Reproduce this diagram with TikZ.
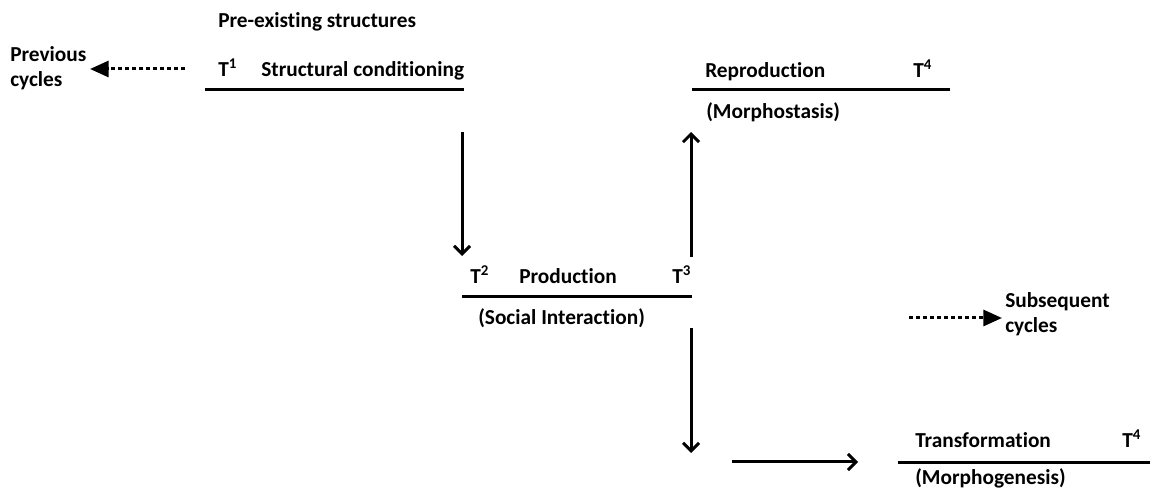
\documentclass[tikz,border=0pt]{standalone}
\usepackage{fontspec}
\setmainfont[Ligatures=NoCommon]{Carlito}
\usetikzlibrary{arrows.meta}
\begin{document}
\begin{tikzpicture}[x=0.75pt,y=-0.75pt,
  lbl/.style={anchor=base west,inner sep=0pt,font=\fontsize{16}{20}\selectfont\bfseries},
  bar/.style={line width=2.25pt},
  flow/.style={line width=2.25pt,-{Straight Barb[length=6pt,width=12pt,line width=2.25pt]}},
  cycle/.style={line width=2.25pt,dash pattern=on 3pt off 2.25pt,-{Triangle[length=14pt,width=12pt,sep=0pt]}}]
\useasboundingbox (0,0) rectangle (1150,498);
% texts
\node[lbl] (pre) at (218,28) {Pre-existing structures};
\node[lbl] (prev1) at (10,62) {Previous};
\node[lbl] (prev2) at (10,87) {cycles};
\node[lbl] (t1) at (218,77) {T\textsuperscript{1}};
\node[lbl] (sc) at (261,77) {Structural conditioning};
\node[lbl] (t2) at (470,284) {T\textsuperscript{2}};
\node[lbl] (prod) at (519,284) {Production};
\node[lbl] (t3) at (672,284) {T\textsuperscript{3}};
\node[lbl] (si) at (478,325) {(Social Interaction)};
\node[lbl] (rep) at (705,78) {Reproduction};
\node[lbl] (t4a) at (913,78) {T\textsuperscript{4}};
\node[lbl] (mst) at (706,119) {(Morphostasis)};
\node[lbl] (sub1) at (1005,308) {Subsequent};
\node[lbl] (sub2) at (1005,333) {cycles};
\node[lbl] (tr) at (915,448) {Transformation};
\node[lbl] (t4b) at (1122,448) {T\textsuperscript{4}};
\node[lbl] (mg) at (915,485) {(Morphogenesis)};
% horizontal bars
\coordinate (b1a) at (205,90); \coordinate (b1b) at (464,90);
\coordinate (b2a) at (462,297); \coordinate (b2b) at (692,297);
\coordinate (b3a) at (692,90); \coordinate (b3b) at (950,90);
\coordinate (b4a) at (898,463); \coordinate (b4b) at (1150,463);
\draw[bar] (b1a) -- (b1b);
\draw[bar] (b2a) -- (b2b);
\draw[bar] (b3a) -- (b3b);
\draw[bar] (b4a) -- (b4b);
% arrows
\coordinate (d1s) at (462,132); \coordinate (d1e) at (462,256);
\coordinate (u1s) at (691,257); \coordinate (u1e) at (691,132);
\coordinate (d2s) at (691,328); \coordinate (d2e) at (691,453);
\coordinate (r1s) at (732,462); \coordinate (r1e) at (858,462);
\coordinate (pvs) at (185,69); \coordinate (pve) at (90,69);
\coordinate (sqs) at (909,318); \coordinate (sqe) at (1002,318);
\draw[flow] (d1s) -- (d1e);
\draw[flow] (u1s) -- (u1e);
\draw[flow] (d2s) -- (d2e);
\draw[flow] (r1s) -- (r1e);
\draw[cycle] (pvs) -- (pve);
\draw[cycle] (sqs) -- (sqe);
\end{tikzpicture}
\end{document}
